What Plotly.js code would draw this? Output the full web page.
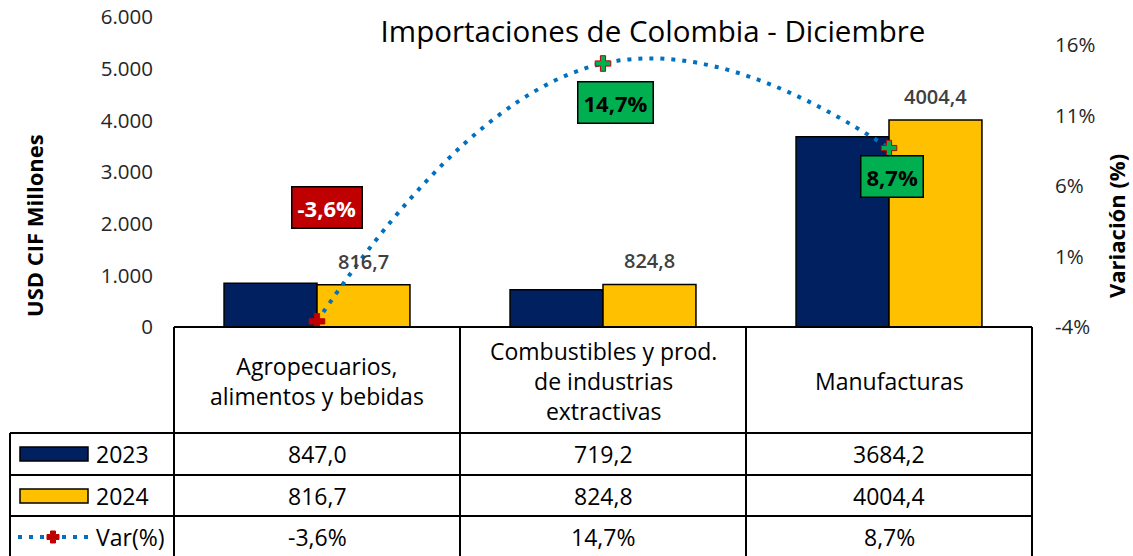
<!DOCTYPE html>
<html><head><meta charset="utf-8">
<script src="https://cdn.plot.ly/plotly-3.0.1.min.js"></script>
<style>html,body{margin:0;padding:0;background:#fff}#chart{width:1133px;height:556px}</style>
</head><body><div id="chart"></div>
<script>
// ---- data ----
const categories = ['Agropecuarios,<br>alimentos y bebidas', 'Combustibles y prod.<br>de industrias<br>extractivas', 'Manufacturas'];
const values2023 = [847.0, 719.2, 3684.2];
const values2024 = [816.7, 824.8, 4004.4];
const variation = [-3.6, 14.7, 8.7];
const seriesNames = ['2023', '2024', 'Var(%)'];
const leftTickVals = [0, 1000, 2000, 3000, 4000, 5000, 6000];
const rightTickVals = [-4, 1, 6, 11, 16];
const rightTickText = ['-4%', '1%', '6%', '11%', '16%'];
const chartTitle = 'Importaciones de Colombia - Diciembre';
const leftTitle = 'USD CIF Millones';
const rightTitle = 'Variación (%)';

// ---- geometry / style ----
const W = 1133, H = 556, L = 174, R = 1032, T = 17, B = 327;
const px = v => (v - L) / (R - L);
const py = v => (B - v) / (B - T);
const FONT = 'Open Sans';
const C2023 = '#002060', C2024 = '#FFC000', CLINE = '#0070C0', CRED = '#C00000', CGREEN = '#00B050';
const fmt = v => v.toFixed(1).replace('.', ',');

const traces = [
  {type: 'bar', name: seriesNames[0], x: categories, y: values2023,
   marker: {color: C2023, line: {color: '#000', width: 1.5}}, hoverinfo: 'y'},
  {type: 'bar', name: seriesNames[1], x: categories, y: values2024,
   marker: {color: C2024, line: {color: '#000', width: 1.5}}, hoverinfo: 'y'},
  {type: 'scatter', name: seriesNames[2], x: categories, y: variation, yaxis: 'y2',
   mode: 'lines+markers',
   line: {color: CLINE, width: 4, dash: '4px,7px', shape: 'spline', smoothing: 1.3},
   marker: {symbol: 'cross', size: 13, color: [CRED, CGREEN, CGREEN], line: {color: CRED, width: 1}}}
];

const shapes = [];
const lineStyle = {color: '#000', width: 2};
// table horizontal lines
shapes.push({type: 'line', xref: 'paper', yref: 'paper', x0: 0, x1: 1, y0: 0, y1: 0, line: lineStyle});
[433, 475, 516].forEach(yy => shapes.push({type: 'line', xref: 'paper', yref: 'paper', x0: px(10), x1: 1, y0: py(yy), y1: py(yy), line: lineStyle}));
// column boundaries derived from category axis range [-0.5, 2.5]
for (let i = 0; i <= categories.length; i++) {
  const xp = i / categories.length;
  shapes.push({type: 'line', xref: 'paper', yref: 'paper', x0: xp, x1: xp, y0: 0, y1: py(H + 2), line: lineStyle});
}
shapes.push({type: 'line', xref: 'paper', yref: 'paper', x0: px(10), x1: px(10), y0: py(433), y1: py(H + 2), line: lineStyle});
// legend keys
shapes.push({type: 'rect', xref: 'paper', yref: 'paper', x0: px(20), x1: px(88), y0: py(461), y1: py(447), fillcolor: C2023, line: {color: '#000', width: 1.5}});
shapes.push({type: 'rect', xref: 'paper', yref: 'paper', x0: px(20), x1: px(88), y0: py(503), y1: py(489), fillcolor: C2024, line: {color: '#000', width: 1.5}});
shapes.push({type: 'line', xref: 'paper', yref: 'paper', x0: px(18), x1: px(90), y0: py(537), y1: py(537), line: {color: CLINE, width: 4, dash: '4px,7px'}});
// plus marker in legend
(function () {
  const cx = 53, cy = 537, a = 6, b = 2.5;
  const pts = [[cx - b, cy - a], [cx + b, cy - a], [cx + b, cy - b], [cx + a, cy - b], [cx + a, cy + b], [cx + b, cy + b], [cx + b, cy + a], [cx - b, cy + a], [cx - b, cy + b], [cx - a, cy + b], [cx - a, cy - b], [cx - b, cy - b]];
  const path = 'M' + pts.map(p => px(p[0]).toFixed(5) + ',' + py(p[1]).toFixed(5)).join('L') + 'Z';
  shapes.push({type: 'path', xref: 'paper', yref: 'paper', path: path, fillcolor: CRED, line: {color: CRED, width: 1}});
})();

const annotations = [];
const tableFont = {family: FONT, size: 23, color: '#000'};
// header cells
categories.forEach(c => annotations.push({xref: 'x', yref: 'paper', x: c, y: py(381), text: c, showarrow: false, font: tableFont, xanchor: 'center', yanchor: 'middle', align: 'center'}));
// data rows
const rows = [
  {name: seriesNames[0], vals: values2023.map(fmt), y: 454},
  {name: seriesNames[1], vals: values2024.map(fmt), y: 496},
  {name: seriesNames[2], vals: variation.map(v => fmt(v) + '%'), y: 537}
];
rows.forEach(r => {
  annotations.push({xref: 'paper', yref: 'paper', x: px(94), y: py(r.y), text: r.name, showarrow: false, font: tableFont, xanchor: 'left', yanchor: 'middle'});
  r.vals.forEach((t, i) => annotations.push({xref: 'x', yref: 'paper', x: categories[i], y: py(r.y), text: t, showarrow: false, font: tableFont, xanchor: 'center', yanchor: 'middle'}));
});
// data labels on 2024 bars
values2024.forEach((v, i) => annotations.push({xref: 'x', yref: 'y', x: categories[i], y: v, xshift: 46, yshift: 8, text: fmt(v), showarrow: false, xanchor: 'center', yanchor: 'bottom', font: {family: FONT, size: 20, color: '#404040', weight: 600}}));
// variation labels
const varStyle = [
  {bg: CRED, fc: '#fff', dx: 10, dy: 114},
  {bg: CGREEN, fc: '#000', dx: 12, dy: -39},
  {bg: CGREEN, fc: '#000', dx: 3, dy: -28}
];
variation.forEach((v, i) => annotations.push({xref: 'x', yref: 'y2', x: categories[i], y: v, xshift: varStyle[i].dx, yshift: varStyle[i].dy, text: fmt(v) + '%', showarrow: false, xanchor: 'center', yanchor: 'middle', bgcolor: varStyle[i].bg, bordercolor: '#000', borderwidth: 1.5, borderpad: 5, font: {family: FONT, size: 22, color: varStyle[i].fc, weight: 'bold'}}));
// axis titles
annotations.push({xref: 'paper', yref: 'paper', x: px(34), y: py(226), text: leftTitle, textangle: -90, showarrow: false, xanchor: 'center', yanchor: 'middle', font: {family: FONT, size: 22, color: '#000', weight: 'bold'}});
annotations.push({xref: 'paper', yref: 'paper', x: px(1116), y: py(226), text: rightTitle, textangle: -90, showarrow: false, xanchor: 'center', yanchor: 'middle', font: {family: FONT, size: 22, color: '#000', weight: 'bold'}});

const layout = {
  width: W, height: H, autosize: false,
  margin: {l: L, r: W - R, t: T, b: H - B, pad: 0},
  paper_bgcolor: '#fff', plot_bgcolor: 'rgba(0,0,0,0)',
  font: {family: FONT, color: '#262626'},
  separators: ',.',
  showlegend: false,
  barmode: 'group', bargap: 0.35, bargroupgap: 0,
  title: {text: chartTitle, font: {family: FONT, size: 29.5, color: '#000'}, xref: 'container', yref: 'container', x: 653 / W, xanchor: 'center', y: 1 - 32 / H, yanchor: 'middle'},
  xaxis: {type: 'category', range: [-0.5, 2.5], showticklabels: false, showgrid: false, zeroline: false, showline: false, ticks: '', fixedrange: true},
  yaxis: {range: [0, 6000], tickvals: leftTickVals, tickformat: ',.0f', showgrid: false, zeroline: false, showline: false, ticks: '', ticklabelstandoff: 20, tickfont: {family: FONT, size: 20.5, color: '#262626'}},
  yaxis2: {overlaying: 'y', side: 'right', range: [-4, 18], tickvals: rightTickVals, ticktext: rightTickText, showgrid: false, zeroline: false, showline: false, ticks: '', ticklabelstandoff: 22, tickfont: {family: FONT, size: 20.5, color: '#262626'}},
  shapes: shapes,
  annotations: annotations
};

Plotly.newPlot('chart', traces, layout, {displayModeBar: false, staticPlot: true});
</script>
</body></html>
